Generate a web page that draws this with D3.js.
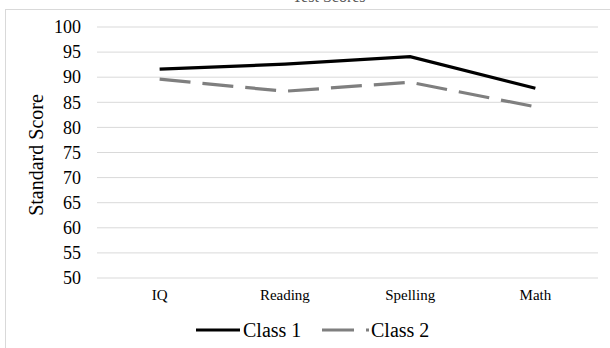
<!DOCTYPE html>
<html><head><meta charset="utf-8">
<script src="https://cdn.jsdelivr.net/npm/d3@7"></script>
<style>body{margin:0;background:#fff}svg{display:block}svg text{font-family:"Liberation Serif","Times New Roman","DejaVu Serif",serif}</style>
</head><body>
<svg id="c" width="610" height="348"></svg>
<script>
(function(){
const categories = ["IQ", "Reading", "Spelling", "Math"];
const class1 = [91.6, 92.6, 94.1, 87.8];
const class2 = [89.6, 87.2, 89.0, 84.1];
const yTicks = [50, 55, 60, 65, 70, 75, 80, 85, 90, 95, 100];
const seriesNames = ["Class 1", "Class 2"];
const titleText = "Test Scores";

const svg = d3.select("#c");
const pLeft = 97, pRight = 598, pTop = 27, pBottom = 278;

svg.append("rect").attr("x", 5.5).attr("y", 9.5).attr("width", 640).attr("height", 400)
  .attr("fill", "#fff").attr("stroke", "#d9d9d9").attr("stroke-width", 1);

svg.append("text").attr("x", 329).attr("y", 2).attr("text-anchor", "middle")
  .attr("font-size", 16).attr("fill", "#595959").text(titleText);

const x = d3.scaleBand().domain(categories).range([pLeft, pRight]);
const y = d3.scaleLinear().domain([50, 100]).range([pBottom, pTop]);

svg.append("g").selectAll("line").data(yTicks).join("line")
  .attr("x1", pLeft).attr("x2", pRight)
  .attr("y1", d => y(d)).attr("y2", d => y(d))
  .attr("stroke", "#d9d9d9").attr("stroke-width", 1);

const yAxis = d3.axisLeft(y).tickValues(yTicks).tickSize(0).tickPadding(0);
const gy = svg.append("g").attr("transform", `translate(${pLeft - 16},0)`).call(yAxis);
gy.select(".domain").remove();
gy.attr("font-family", null);
gy.selectAll("text").attr("font-size", 18).attr("fill", "#000");

const xAxis = d3.axisBottom(x).tickSize(0).tickPadding(0);
const gx = svg.append("g").attr("transform", `translate(0,${pBottom + 11})`).call(xAxis);
gx.select(".domain").remove();
gx.attr("font-family", null);
gx.selectAll("text").attr("font-size", 15).attr("fill", "#000");

svg.append("text").attr("transform", "translate(43,155) rotate(-90)")
  .attr("text-anchor", "middle").attr("font-size", 20)
  .attr("fill", "#000").text("Standard Score");

const line = d3.line().x((d, i) => x(categories[i]) + x.bandwidth() / 2).y(d => y(d));
svg.append("path").datum(class2).attr("d", line).attr("fill", "none")
  .attr("stroke", "#7f7f7f").attr("stroke-width", 3.2).attr("stroke-dasharray", "31,12");
svg.append("path").datum(class1).attr("d", line).attr("fill", "none")
  .attr("stroke", "#000").attr("stroke-width", 3.2);

const lg = svg.append("g");
lg.append("line").attr("x1", 196).attr("x2", 240).attr("y1", 330).attr("y2", 330)
  .attr("stroke", "#000").attr("stroke-width", 3.2);
lg.append("text").attr("x", 243).attr("y", 337).attr("font-size", 20)
  .attr("fill", "#000").text(seriesNames[0]);
lg.append("line").attr("x1", 322).attr("x2", 369).attr("y1", 330).attr("y2", 330)
  .attr("stroke", "#7f7f7f").attr("stroke-width", 3.2).attr("stroke-dasharray", "32,12");
lg.append("text").attr("x", 371).attr("y", 337).attr("font-size", 20)
  .attr("fill", "#000").text(seriesNames[1]);
})();
</script>
</body></html>
